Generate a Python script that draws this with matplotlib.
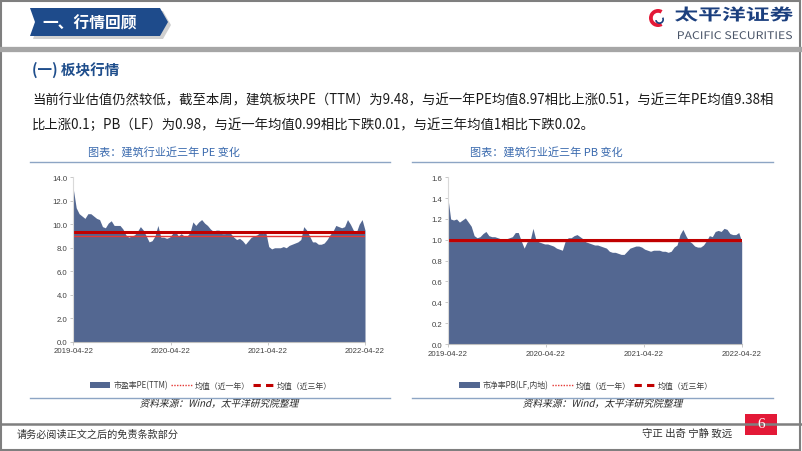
import matplotlib
matplotlib.use("Agg")
import matplotlib.pyplot as plt
import pandas as pd
from matplotlib.patches import Polygon, Rectangle, PathPatch, Patch, Wedge
from matplotlib.lines import Line2D
from matplotlib.textpath import TextPath
from matplotlib.font_manager import FontProperties
from matplotlib.transforms import Affine2D

plt.rcParams['font.family'] = ['Noto Sans CJK SC', 'DejaVu Sans']

# ---- data (~every 11 days)
start_date, end_date = "2019-04-22", "2022-04-22"
tick_labels = ["2019-04-22", "2020-04-22", "2021-04-22", "2022-04-22"]

pe_vals = [13.0, 11.4, 10.9, 10.7, 10.5, 10.9, 10.9, 10.7, 10.5, 10.4,
           9.8, 9.7, 10.1, 10.3, 9.9, 9.9, 9.9, 9.6, 9.1, 8.9,
           9.0, 9.1, 9.4, 9.8, 9.5, 9.0, 8.5, 8.6, 9.0, 9.9,
           8.9, 8.9, 8.8, 8.9, 9.2, 9.4, 9.0, 9.2, 9.0, 9.0,
           9.3, 10.2, 9.9, 10.2, 10.4, 10.1, 9.9, 9.6, 9.4, 9.5,
           9.5, 9.2, 9.2, 9.3, 9.2, 8.9, 8.7, 8.8, 8.6, 8.3,
           8.6, 8.9, 9.0, 9.1, 9.3, 9.2, 9.3, 8.1, 7.9, 8.0,
           8.0, 8.0, 8.1, 8.0, 8.2, 8.3, 8.4, 8.5, 8.7, 9.8,
           9.5, 9.0, 8.5, 8.5, 8.3, 8.3, 8.4, 8.7, 9.1, 9.4,
           9.9, 9.8, 9.7, 9.8, 10.4, 10.0, 9.5, 9.3, 10.0, 10.4,
           9.5]
pe_mean_1y = 8.97
pe_mean_3y = 9.38

pb_vals = [1.42, 1.20, 1.19, 1.20, 1.17, 1.19, 1.21, 1.17, 1.13, 1.04,
           1.02, 1.03, 1.06, 1.08, 1.04, 1.03, 1.03, 1.02, 1.01, 1.01,
           1.01, 1.02, 1.03, 1.07, 1.07, 0.99, 0.92, 0.98, 0.99, 1.11,
           1.00, 0.98, 0.97, 0.96, 0.96, 0.95, 0.94, 0.92, 0.91, 0.90,
           0.99, 1.02, 1.02, 1.04, 1.05, 1.03, 1.01, 0.98, 0.97, 0.96,
           0.95, 0.95, 0.94, 0.93, 0.92, 0.89, 0.88, 0.88, 0.87, 0.86,
           0.86, 0.89, 0.92, 0.93, 0.94, 0.94, 0.93, 0.91, 0.90, 0.89,
           0.90, 0.90, 0.90, 0.89, 0.89, 0.88, 0.89, 0.93, 0.95, 1.05,
           1.10, 1.04, 0.99, 0.97, 0.94, 0.93, 0.93, 0.95, 0.99, 1.04,
           1.03, 1.08, 1.09, 1.08, 1.11, 1.10, 1.06, 1.05, 1.05, 1.07,
           0.98]
pb_mean_1y = 0.99
pb_mean_3y = 1.00

pe_labels = ["市盈率PE(TTM)", "均值（近一年）", "均值（近三年）"]
pb_labels = ["市净率PB(LF,内地)", "均值（近一年）", "均值（近三年）"]

line1 = "当前行业估值仍然较低，截至本周，建筑板块PE（TTM）为9.48，与近一年PE均值8.97相比上涨0.51，与近三年PE均值9.38相"
line2 = "比上涨0.1；PB（LF）为0.98，与近一年均值0.99相比下跌0.01，与近三年均值1相比下跌0.02。"

# ---- colours
area_c = '#536791'
red1 = '#E53935'
red3 = '#C00000'
frame_c = '#8DA5C4'

W, H = 802, 452
fig = plt.figure(figsize=(W / 100, H / 100), dpi=100)
px_tr = Affine2D().scale(1 / W, 1 / H) + fig.transFigure   # pixels, y up


def fx(x):
    return x / W


def fy(y):
    return 1 - y / H


def poly(pts, **kw):
    p = Polygon([(fx(a), fy(b)) for a, b in pts], closed=True,
                transform=fig.transFigure, **kw)
    fig.add_artist(p)


def hline(x0, x1, y, color, lw):
    fig.add_artist(Line2D([fx(x0), fx(x1)], [fy(y), fy(y)], color=color,
                          lw=lw, transform=fig.transFigure))


def path_text(s, x, y, size, color, width=None, skew=0.0, weight='normal', ha='left'):
    # text as a path, so it can be stretched / slanted
    fp = FontProperties(family='Noto Sans CJK SC', weight=weight)
    tp = TextPath((0, 0), s, size=size, prop=fp)
    bb = tp.get_extents()
    sx = width / bb.width if width else 1.0
    w = bb.width * sx
    x0 = x - w / 2 if ha == 'center' else x
    tr = (Affine2D().translate(-bb.x0, 0).skew_deg(skew, 0).scale(sx, 1)
          .translate(x0, H - (y + 0.38 * size)).scale(1 / W, 1 / H))
    fig.add_artist(PathPatch(tr.transform_path(tp), fc=color, ec='none',
                             transform=fig.transFigure))


# ---- slide frame, header, footer
fig.add_artist(Rectangle((fx(1), fy(451)), fx(799), 449 / H, fill=False,
                         ec='#7F7F7F', lw=1.5, transform=fig.transFigure))
hline(0, W, 49.5, '#A6A6A6', 3.8)
hline(0, W, 425, '#7F7F7F', 1.8)

banner = [(30, 9), (160, 9), (168, 23), (160, 37), (30, 37), (35, 23)]
poly([(a + 3, b + 3) for a, b in banner], fc='#D0D0D0', ec='none')
poly(banner, fc='#1E4B8B', ec='none')
fig.text(fx(42), fy(23), "一、行情回顾", color='white', fontsize=11.3,
         fontweight='bold', va='center', ha='left')

# logo
fig.add_artist(Wedge((658, H - 19), 9, 60, 300, width=3.8,
                     fc='#E31937', ec='none', transform=px_tr))
fig.add_artist(Wedge((659.5, H - 20.5), 4.5, 190, 30, width=1.7,
                     fc='#1B3F7E', ec='none', transform=px_tr))
path_text("太平洋证券", 675, 15, 16, '#1B3F7E', width=118, weight='bold')
path_text("PACIFIC SECURITIES", 678, 36, 10.5, '#4A5568', width=114)

fig.add_artist(Rectangle((fx(745), fy(436)), 32 / W, 21 / H, fc='#E31937',
                         ec='none', transform=fig.transFigure))
fig.text(fx(761), fy(425), "6", color='white', fontsize=11,
         family='Liberation Serif', ha='center', va='center')
fig.text(fx(17), fy(435), "请务必阅读正文之后的免责条款部分", fontsize=7.3,
         color='#333333', va='center')
fig.text(fx(642), fy(434), "守正 出奇 宁静 致远", fontsize=7.5,
         color='#333333', va='center')

# section title and paragraph
fig.text(fx(32), fy(70), "(一) 板块行情", fontsize=10.5, fontweight='bold',
         color='#1F4E8C', va='center')
fig.text(fx(32), fy(100), line1, fontsize=9.6, color='#1A1A1A', va='center')
fig.text(fx(32), fy(125), line2, fontsize=9.6, color='#1A1A1A', va='center')

# chart titles + frames
fig.text(fx(88), fy(152), "图表：建筑行业近三年 PE 变化", fontsize=8,
         color='#3A6AAE', va='center')
fig.text(fx(470), fy(152), "图表：建筑行业近三年 PB 变化", fontsize=8,
         color='#3A6AAE', va='center')
for x0, x1 in [(30, 390), (412, 773)]:
    hline(x0, x1, 162.5, frame_c, 1.0)
    hline(x0, x1, 398.5, frame_c, 1.0)
path_text("资料来源：Wind，太平洋研究院整理", 140, 404, 10, '#262626',
          width=158, skew=14)
path_text("资料来源：Wind，太平洋研究院整理", 523, 404, 10, '#262626',
          width=159, skew=14)


# ---- the two charts
def draw_chart(rect, vals, m1, m3, ylim, yticks, labels, leg_x):
    ax = fig.add_axes(rect)
    dates = pd.date_range(start_date, end_date, periods=len(vals))
    ax.fill_between(dates, vals, 0, color=area_c, lw=0)
    ax.plot([dates[0], dates[-1]], [m1, m1], color=red1, lw=1.0)
    ax.plot([dates[0], dates[-1]], [m3, m3], color=red3, lw=2.2)
    ax.set_xlim(dates[0], dates[-1])
    ax.set_ylim(*ylim)
    ax.set_yticks(yticks)
    ax.set_yticklabels([f"{v:.1f}" for v in yticks])
    ax.set_xticks(pd.to_datetime(tick_labels))
    ax.set_xticklabels(tick_labels)
    for s in ['top', 'right']:
        ax.spines[s].set_visible(False)
    ax.spines['left'].set_color('#D9D9D9')
    ax.spines['bottom'].set_color('#BFBFBF')
    ax.tick_params(axis='both', labelsize=5.6, colors='#BFBFBF',
                   labelcolor='#404040', length=2, width=0.6, pad=2)
    for t in ax.get_xticklabels() + ax.get_yticklabels():
        t.set_family('Liberation Sans')
    handles = [Patch(fc=area_c, ec='none'),
               Line2D([], [], color=red1, lw=1.0, ls=(0, (1, 1))),
               Line2D([], [], color=red3, lw=2.2, ls=(0, (2.4, 1.7)))]
    ax.legend(handles, labels, loc='center', bbox_to_anchor=(fx(leg_x), fy(386)),
              bbox_transform=fig.transFigure, ncol=3, frameon=False,
              fontsize=5.7, handlelength=2.6, handletextpad=0.4,
              columnspacing=0.4, borderpad=0, labelcolor='#404040')
    return ax


draw_chart([fx(73.3), fy(342.7), 291.7 / W, 164.4 / H], pe_vals,
           pe_mean_1y, pe_mean_3y, (0, 14), [0, 2, 4, 6, 8, 10, 12, 14],
           pe_labels, 211)
draw_chart([fx(447.7), fy(345), 294 / W, 166.7 / H], pb_vals,
           pb_mean_1y, pb_mean_3y, (0, 1.6),
           [0, 0.2, 0.4, 0.6, 0.8, 1.0, 1.2, 1.4, 1.6], pb_labels, 586)

fig.savefig("out.png", dpi=100)
